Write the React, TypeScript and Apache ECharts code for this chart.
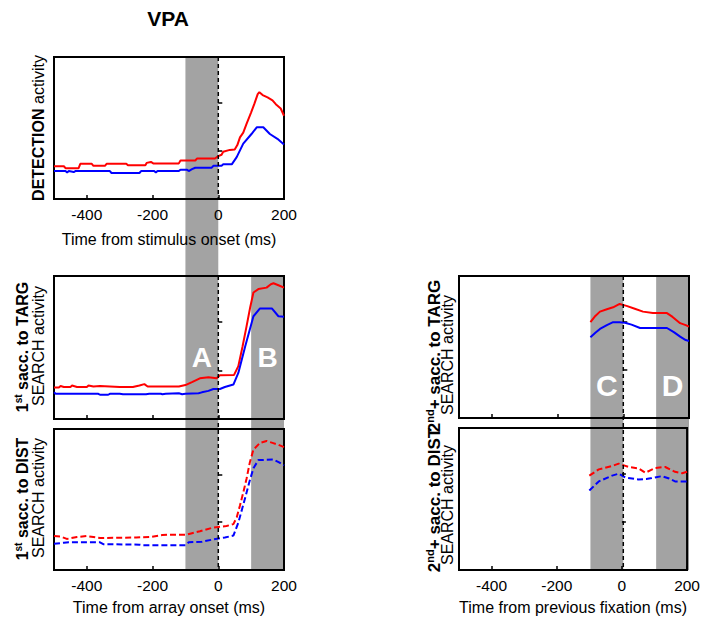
import React, { useEffect, useRef } from "react";
import * as echarts from "echarts";

const FONT = "'Liberation Sans', Arial, Helvetica, sans-serif";

// Tick positions shared by every panel
const xTicks = [-400, -200, 0, 200];
const yTicks = [1, 2];
const xRange = [-500, 200];
const yRange = [0, 2.95];

// Analysis epochs (ms)
const epochA = [-100, 0];
const epochB = [100, 200];
const epochC = [-100, 0];
const epochD = [100, 200];

// DETECTION activity, aligned on stimulus onset: [time ms, activity]
const detTarg: [number, number][] = [
  [-500, 0.68], [-470, 0.68], [-465, 0.64], [-425, 0.64], [-420, 0.73], [-385, 0.73], [-380, 0.69],
  [-345, 0.69], [-340, 0.73], [-280, 0.73], [-275, 0.7], [-222, 0.7], [-218, 0.75], [-205, 0.77],
  [-198, 0.74], [-120, 0.74], [-115, 0.8], [-70, 0.8], [-65, 0.84], [-10, 0.84], [0, 0.89],
  [10, 0.92], [15, 0.98], [35, 1.02], [50, 1.03], [58, 1.12], [66, 1.28], [76, 1.38], [86, 1.56],
  [100, 1.8], [110, 1.98], [120, 2.18], [125, 2.22], [135, 2.16], [150, 2.11], [165, 2.05],
  [175, 1.97], [190, 1.88], [200, 1.73],
];
const detDist: [number, number][] = [
  [-500, 0.58], [-465, 0.58], [-460, 0.55], [-455, 0.58], [-440, 0.56], [-435, 0.58], [-330, 0.58],
  [-325, 0.54], [-240, 0.54], [-235, 0.58], [-195, 0.58], [-190, 0.55], [-185, 0.58], [-120, 0.58],
  [-115, 0.61], [-95, 0.61], [-90, 0.58], [-80, 0.62], [-70, 0.65], [-20, 0.65], [-15, 0.69],
  [10, 0.69], [15, 0.72], [41, 0.72], [56, 0.87], [76, 1.15], [101, 1.35], [117, 1.49],
  [137, 1.49], [157, 1.35], [180, 1.25], [200, 1.13],
];

// SEARCH activity, 1st saccade to target, aligned on array onset
const firstTargHigh: [number, number][] = [
  [-500, 0.65], [-485, 0.65], [-480, 0.68], [-470, 0.66], [-450, 0.66], [-445, 0.69], [-430, 0.66],
  [-400, 0.66], [-395, 0.69], [-380, 0.67], [-360, 0.68], [-300, 0.66], [-260, 0.66], [-240, 0.69],
  [-225, 0.72], [-215, 0.67], [-120, 0.67], [-100, 0.7], [-80, 0.76], [-56, 0.84], [-30, 0.86],
  [-5, 0.84], [5, 0.9], [48, 0.91], [61, 1.09], [74, 1.5], [86, 1.91], [97, 2.3], [107, 2.61],
  [122, 2.68], [147, 2.71], [160, 2.78], [168, 2.8], [183, 2.76], [200, 2.71],
];
const firstTargLow: [number, number][] = [
  [-500, 0.55], [-495, 0.52], [-365, 0.52], [-360, 0.5], [-335, 0.5], [-330, 0.52], [-300, 0.52],
  [-290, 0.51], [-220, 0.51], [-210, 0.52], [-175, 0.52], [-170, 0.51], [-160, 0.52], [-120, 0.53],
  [-110, 0.51], [-100, 0.52], [-60, 0.53], [-50, 0.55], [-30, 0.58], [-15, 0.62], [5, 0.62],
  [20, 0.66], [46, 0.71], [61, 0.95], [82, 1.5], [107, 2.12], [127, 2.28], [163, 2.28],
  [183, 2.12], [200, 2.11],
];

// SEARCH activity, 1st saccade to distractor, aligned on array onset
const firstDistHigh: [number, number][] = [
  [-500, 0.71], [-480, 0.7], [-461, 0.65], [-430, 0.69], [-400, 0.71], [-380, 0.69], [-360, 0.67],
  [-250, 0.68], [-208, 0.69], [-170, 0.73], [-147, 0.74], [-96, 0.74], [-80, 0.77], [-56, 0.81],
  [-15, 0.89], [25, 0.92], [46, 0.96], [56, 1.1], [66, 1.35], [76, 1.62], [86, 1.91], [96, 2.25],
  [107, 2.52], [127, 2.66], [147, 2.7], [165, 2.66], [183, 2.62], [200, 2.57],
];
const firstDistLow: [number, number][] = [
  [-500, 0.55], [-470, 0.57], [-455, 0.58], [-360, 0.58], [-350, 0.54], [-240, 0.53], [-230, 0.52],
  [-100, 0.52], [-90, 0.58], [-50, 0.59], [-15, 0.64], [20, 0.68], [46, 0.72], [61, 0.99],
  [81, 1.49], [95, 1.85], [107, 2.13], [122, 2.3], [168, 2.31], [185, 2.25], [200, 2.19],
];

// SEARCH activity, 2nd+ saccades, aligned on previous fixation
const laterTargHigh: [number, number][] = [
  [-100, 1.99], [-85, 2.12], [-71, 2.21], [-50, 2.26], [-31, 2.3], [-11, 2.37], [10, 2.33],
  [35, 2.27], [60, 2.21], [90, 2.18], [133, 2.18], [150, 2.1], [173, 1.97], [190, 1.93], [200, 1.9],
];
const laterTargLow: [number, number][] = [
  [-100, 1.68], [-85, 1.77], [-71, 1.85], [-50, 1.93], [-31, 1.99], [-11, 1.99], [5, 1.98],
  [25, 1.94], [51, 1.87], [133, 1.87], [155, 1.78], [173, 1.69], [190, 1.62], [200, 1.6],
];
const laterDistHigh: [number, number][] = [
  [-100, 1.96], [-71, 2.09], [-30, 2.16], [-10, 2.21], [21, 2.14], [51, 2.11], [72, 2.02],
  [90, 2.08], [102, 2.12], [133, 2.14], [163, 2.04], [185, 2.01], [200, 2.04],
];
const laterDistLow: [number, number][] = [
  [-100, 1.65], [-71, 1.84], [-30, 1.96], [-10, 2.0], [11, 1.92], [51, 1.88], [75, 1.89],
  [92, 1.91], [123, 1.95], [145, 1.9], [163, 1.84], [200, 1.84],
];

const xNames = ["Time from stimulus onset (ms)", "", "Time from array onset (ms)", "", "Time from previous fixation (ms)"];

const GRAY = "#a3a3a3";

const grids = [
  { left: 54, top: 57, width: 230, height: 142 },
  { left: 54, top: 276, width: 230, height: 143 },
  { left: 54, top: 429, width: 230, height: 141 },
  { left: 459, top: 276, width: 230, height: 142 },
  { left: 459, top: 428, width: 230, height: 142 },
];

const makeRich = (size: number) => ({
  b: { fontFamily: FONT, fontSize: size, fontWeight: "bold", color: "#000", lineHeight: size + 2 },
  s: {
    fontFamily: FONT,
    fontSize: Math.round(size * 0.62),
    fontWeight: "bold",
    color: "#000",
    lineHeight: Math.round(size * 0.62) + 1,
    verticalAlign: "top",
  },
  r: { fontFamily: FONT, fontSize: 16, color: "#000", lineHeight: 18 },
});

function vText(x: number, y: number, text: string, size = 16) {
  return {
    type: "text",
    x,
    y,
    rotation: Math.PI / 2,
    z: 5,
    style: { text, rich: makeRich(size), align: "center", verticalAlign: "middle", fontFamily: FONT },
  };
}

export default function App() {
  const ref = useRef<HTMLDivElement>(null);

  useEffect(() => {
    if (!ref.current) return;
    const chart = echarts.init(ref.current, undefined, { renderer: "svg" });

    const lineSeries = (data: [number, number][], idx: number, color: string, dashed: boolean) => ({
      type: "line",
      xAxisIndex: idx,
      yAxisIndex: idx,
      data,
      showSymbol: false,
      symbol: "none",
      z: 3,
      lineStyle: { color, width: 2, type: dashed ? [6, 3] : "solid" },
    });

    chart.setOption({
      animation: false,
      grid: grids.map((g) => ({
        ...g,
        show: true,
        borderColor: "#000",
        borderWidth: 2,
        backgroundColor: "transparent",
      })),
      xAxis: grids.map((_, i) => ({
        type: "value",
        gridIndex: i,
        min: xRange[0],
        max: xRange[1],
        axisLine: { show: false },
        splitLine: { show: false },
        axisTick: {
          show: true,
          inside: true,
          length: 4,
          customValues: xTicks,
          lineStyle: { color: "#000", width: 1.5 },
        },
        axisLabel: {
          show: i === 0 || i === 2 || i === 4,
          customValues: xTicks,
          fontFamily: FONT,
          fontSize: 15.5,
          color: "#000",
          margin: 7,
        },
        name: xNames[i],
        nameLocation: "middle",
        nameGap: i === 0 ? 32 : 29,
        nameTextStyle: { fontFamily: FONT, fontSize: 16, color: "#000" },
      })),
      yAxis: grids.map((_, i) => ({
        type: "value",
        gridIndex: i,
        min: yRange[0],
        max: yRange[1],
        axisLine: { show: false },
        splitLine: { show: false },
        axisLabel: { show: false },
        axisTick: {
          show: true,
          inside: true,
          length: 4,
          customValues: yTicks,
          lineStyle: { color: "#000", width: 1.5 },
        },
      })),
      series: [
        lineSeries(detTarg, 0, "#ff0000", false),
        lineSeries(detDist, 0, "#0000ff", false),
        lineSeries(firstTargHigh, 1, "#ff0000", false),
        lineSeries(firstTargLow, 1, "#0000ff", false),
        lineSeries(firstDistHigh, 2, "#ff0000", true),
        lineSeries(firstDistLow, 2, "#0000ff", true),
        lineSeries(laterTargHigh, 3, "#ff0000", false),
        lineSeries(laterTargLow, 3, "#0000ff", false),
        lineSeries(laterDistHigh, 4, "#ff0000", true),
        lineSeries(laterDistLow, 4, "#0000ff", true),
      ],
    });

    const px = (i: number, v: number) => chart.convertToPixel({ xAxisIndex: i }, v) as number;
    const py = (i: number, v: number) => chart.convertToPixel({ yAxisIndex: i }, v) as number;

    const band = (xi: number, ep: number[], topI: number, botI: number) => {
      const x0 = px(xi, ep[0]);
      const x1 = px(xi, ep[1]);
      const y0 = py(topI, yRange[1]);
      const y1 = py(botI, yRange[0]);
      return {
        type: "rect",
        z: -1,
        shape: { x: x0, y: y0, width: x1 - x0, height: y1 - y0 },
        style: { fill: GRAY },
        silent: true,
      };
    };

    const zeroLine = (xi: number, topI: number, botI: number) => ({
      type: "line",
      z: 4,
      shape: { x1: px(xi, 0), y1: py(topI, yRange[1]), x2: px(xi, 0), y2: py(botI, yRange[0]) },
      style: { stroke: "#000", lineWidth: 1.5, lineDash: [4, 3] },
      silent: true,
    });

    const letter = (t: string, xi: number, ep: number[], yi: number, yv: number, size: number) => ({
      type: "text",
      z: 2,
      x: (px(xi, ep[0]) + px(xi, ep[1])) / 2,
      y: py(yi, yv),
      style: {
        text: t,
        fill: "#fff",
        fontFamily: FONT,
        fontSize: size,
        fontWeight: "bold",
        align: "center",
        verticalAlign: "middle",
      },
    });

    chart.setOption({
      graphic: [
        band(0, epochA, 0, 2),
        band(1, epochB, 1, 2),
        band(3, epochC, 3, 4),
        band(3, epochD, 3, 4),
        zeroLine(0, 0, 0),
        zeroLine(1, 1, 2),
        zeroLine(3, 3, 4),
        letter("A", 1, epochA, 1, 1.27, 28),
        letter("B", 1, epochB, 1, 1.27, 28),
        letter("C", 3, epochC, 3, 0.67, 30),
        letter("D", 3, epochD, 3, 0.67, 30),
        {
          type: "text",
          x: 168,
          y: 18,
          style: {
            text: "VPA",
            fontFamily: FONT,
            fontSize: 21,
            fontWeight: "bold",
            fill: "#000",
            align: "center",
            verticalAlign: "middle",
          },
        },
        vText(38, 128, "{b|DETECTION}{r| activity}", 16),
        vText(22, 347, "{b|1}{s|st}{b| sacc. to TARG}", 16),
        vText(38, 346, "{r|SEARCH activity}"),
        vText(22, 499, "{b|1}{s|st}{b| sacc. to DIST}", 16),
        vText(38, 498, "{r|SEARCH activity}"),
        vText(434, 356, "{b|2}{s|nd}{b|+ sacc. to TARG}", 17),
        vText(447, 355, "{r|SEARCH activity}"),
        vText(434, 500, "{b|2}{s|nd}{b|+ sacc. to DIST}", 17),
        vText(447, 505, "{r|SEARCH activity}"),
      ],
    });

    return () => chart.dispose();
  }, []);

  return (
    <div
      ref={ref}
      style={{ position: "fixed", left: 0, top: 0, width: 703, height: 621, background: "#fff" }}
    />
  );
}
